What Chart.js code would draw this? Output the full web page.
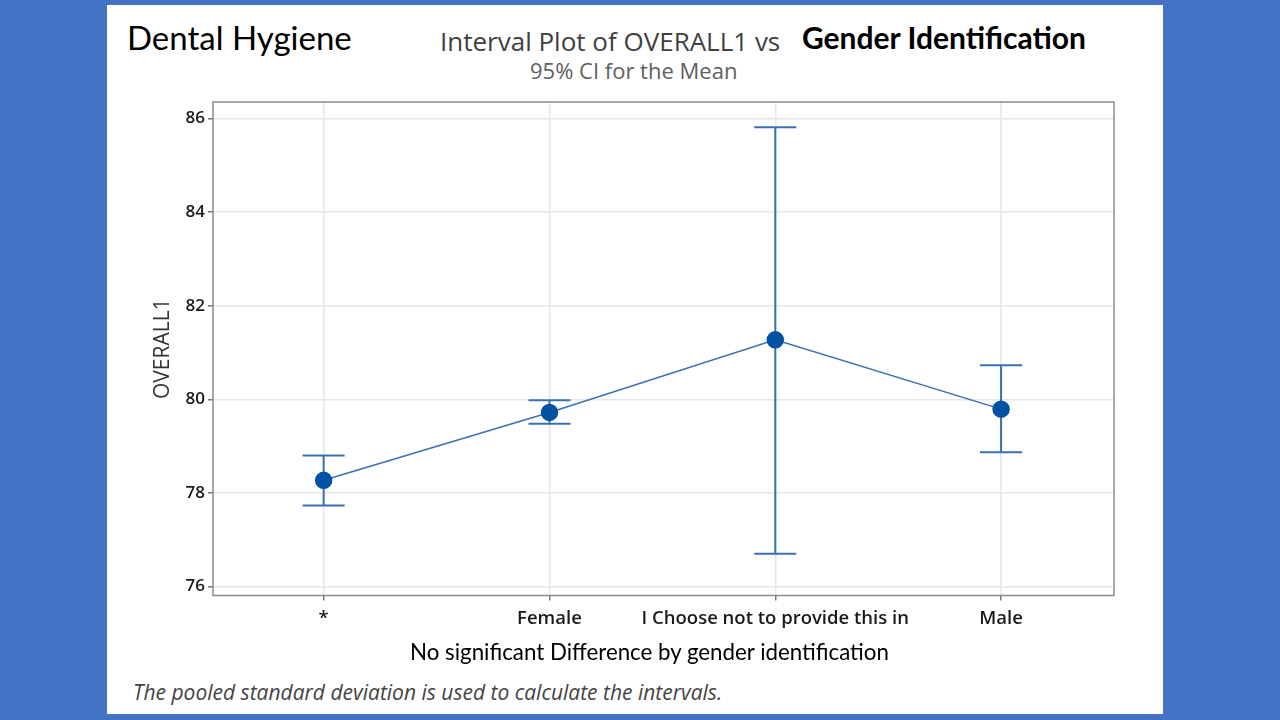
<!DOCTYPE html>
<html>
<head>
<meta charset="utf-8">
<script src="https://cdn.jsdelivr.net/npm/chart.js@4.4.0/dist/chart.umd.min.js"></script>
<style>
  html, body { margin: 0; padding: 0; }
  body { width: 1280px; height: 720px; background: #4472C4; position: relative; overflow: hidden; }
  .panel { position: absolute; left: 107px; top: 5px; width: 1056px; height: 709px; background: #fff; }
  .txt { position: absolute; white-space: nowrap; }
  #dh { left: 127px; top: 17px; font: 33px Lato, sans-serif; color: #000; }
  #t1 { left: 440px; top: 23px; font: 26px "Open Sans", sans-serif; color: #404040; }
  #t2 { left: 802px; top: 19px; font: bold 30px Lato, sans-serif; color: #000; }
  #sub { left: 530px; top: 55px; font: 22px "Open Sans", sans-serif; color: #606060; }
  #note { left: 410px; top: 638px; font: 22.3px Lato, sans-serif; color: #000; }
  #foot { left: 133px; top: 678px; font: italic 21px "Open Sans", sans-serif; color: #444; }
  .wrap { position: absolute; left: 108px; top: 78.5px; width: 1055px; height: 571.5px; }
</style>
</head>
<body>
<div class="panel"></div>
<div class="txt" id="dh">Dental Hygiene</div>
<div class="txt" id="t1">Interval Plot of OVERALL1 vs</div>
<div class="txt" id="t2">Gender Identification</div>
<div class="txt" id="sub">95% CI for the Mean</div>
<div class="wrap"><canvas id="chart"></canvas></div>
<div class="txt" id="note">No significant Difference by gender identification</div>
<div class="txt" id="foot">The pooled standard deviation is used to calculate the intervals.</div>
<script>
// values
const categories = ['*', 'Female', 'I Choose not to provide this in', 'Male'];
const means = [78.27, 79.72, 81.27, 79.79];
const lower = [77.73, 79.48, 76.70, 78.87];
const upper = [78.80, 79.98, 85.81, 80.73];
const yTicks = [76, 78, 80, 82, 84, 86];

const lineColor = '#3A70B3';
const dotColor = '#0152A3';

const whiskers = categories.map((c, i) => ({
    data: [{ x: i, y: lower[i] }, { x: i, y: upper[i] }],
    showLine: true,
    borderColor: lineColor,
    borderWidth: 2,
    pointRadius: 0,
    order: 2
}));

const caps = {
    data: categories.flatMap((c, i) => [{ x: i, y: lower[i] }, { x: i, y: upper[i] }]),
    pointStyle: 'line',
    pointRadius: 21,
    pointBorderColor: lineColor,
    pointBorderWidth: 2,
    order: 2
};

const meanLine = {
    data: categories.map((c, i) => ({ x: i, y: means[i] })),
    showLine: true,
    borderColor: lineColor,
    borderWidth: 1.5,
    pointRadius: 8,
    pointBackgroundColor: dotColor,
    pointBorderColor: dotColor,
    order: 0
};

// frame around the plot area
const frame = {
    id: 'frame',
    afterDraw(chart) {
        const { ctx, chartArea: a } = chart;
        ctx.save();
        ctx.strokeStyle = '#8c8c8c';
        ctx.lineWidth = 1.5;
        ctx.strokeRect(a.left, a.top, a.right - a.left, a.bottom - a.top);
        ctx.restore();
    }
};

new Chart(document.getElementById('chart'), {
    type: 'scatter',
    data: { datasets: [meanLine, caps, ...whiskers] },
    options: {
        responsive: true,
        maintainAspectRatio: false,
        animation: false,
        layout: { padding: { top: 1, right: 49, left: 0, bottom: 0 } },
        plugins: { legend: { display: false }, tooltip: { enabled: false } },
        scales: {
            x: {
                type: 'linear',
                min: -0.49,
                max: 3.5,
                afterBuildTicks: (s) => { s.ticks = categories.map((c, i) => ({ value: i })); },
                afterFit: (s) => { s.height = 55; },
                grid: { color: '#e6e6e6', lineWidth: 1.5, tickLength: 5, tickColor: '#777' },
                border: { display: false },
                ticks: {
                    callback: (v) => categories[v],
                    color: '#1a1a1a',
                    padding: 7,
                    maxRotation: 0,
                    autoSkip: false,
                    font: { family: 'Open Sans', size: 18.5, weight: '600' }
                }
            },
            y: {
                min: 75.81,
                max: 86.35,
                afterBuildTicks: (s) => { s.ticks = yTicks.map(v => ({ value: v })); },
                afterFit: (s) => { s.width = 105; },
                grid: { color: '#e6e6e6', lineWidth: 1.5, tickLength: 5, tickColor: '#777' },
                border: { display: false },
                title: {
                    display: true,
                    text: 'OVERALL1',
                    color: '#333',
                    padding: { top: 42, bottom: 0 },
                    font: { family: 'Open Sans', size: 21, weight: '500' }
                },
                ticks: {
                    color: '#1a1a1a',
                    padding: 3,
                    font: { family: 'Open Sans', size: 17, weight: '600' }
                }
            }
        }
    },
    plugins: [frame]
});
</script>
</body>
</html>
